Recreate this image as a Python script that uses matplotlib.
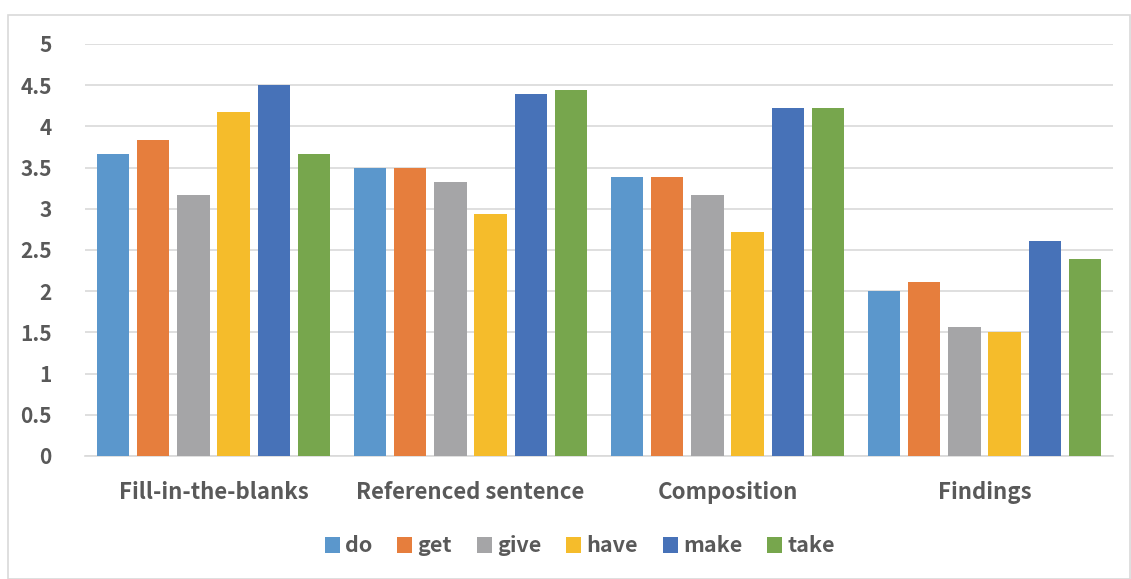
import numpy as np
import matplotlib.pyplot as plt
from matplotlib.patches import Rectangle

plt.rcParams['font.family'] = ['Noto Sans CJK KR', 'DejaVu Sans']

categories = ["Fill-in-the-blanks", "Referenced sentence", "Composition", "Findings"]
verbs = ["do", "get", "give", "have", "make", "take"]
colors = ["#5b97cc", "#e67e3d", "#a5a5a7", "#f5bc2b", "#4772b8", "#77a64d"]

do_vals = [3.67, 3.50, 3.39, 2.00]
get_vals = [3.83, 3.50, 3.39, 2.11]
give_vals = [3.17, 3.33, 3.17, 1.56]
have_vals = [4.17, 2.94, 2.72, 1.50]
make_vals = [4.50, 4.39, 4.22, 2.61]
take_vals = [3.67, 4.44, 4.22, 2.39]
series = [do_vals, get_vals, give_vals, have_vals, make_vals, take_vals]

text_color = "#595959"

fig = plt.figure(figsize=(11.31, 5.79), dpi=100)
# light outer frame of the chart area
fig.add_artist(Rectangle((8 / 1131, 0), 1 - 8 / 1131 - 0.0005, 1 - 15 / 579,
                         transform=fig.transFigure, fill=False,
                         edgecolor="#d9d9d9", lw=1.2))

ax = fig.add_axes([85 / 1131, (579 - 456) / 579, (1113 - 85) / 1131, (456 - 44) / 579])

x = np.arange(len(categories))
width = 0.125
pitch = 0.156
for i, (vals, c) in enumerate(zip(series, colors)):
    ax.bar(x + (i - 2.5) * pitch, vals, width, color=c, label=verbs[i], zorder=3)

ax.set_xlim(-0.5, len(categories) - 0.5)
ax.set_ylim(0, 5)
ax.set_yticks(np.arange(0, 5.01, 0.5))
ax.set_yticklabels(["0", "0.5", "1", "1.5", "2", "2.5", "3", "3.5", "4", "4.5", "5"])
ax.set_xticks(x)
ax.set_xticklabels(categories)
ax.grid(axis="y", color="#d9d9d9", lw=1.2, zorder=0)
ax.tick_params(length=0, labelcolor=text_color)
ax.tick_params(axis="x", pad=18, labelsize=16)
ax.tick_params(axis="y", pad=24, labelsize=15)
for lab in ax.get_xticklabels() + ax.get_yticklabels():
    lab.set_fontweight("bold")
for s in ["top", "right", "left"]:
    ax.spines[s].set_visible(False)
ax.spines["bottom"].set_color("#d9d9d9")
ax.spines["bottom"].set_linewidth(1.2)

leg = fig.legend(loc="center", bbox_to_anchor=(580 / 1131, 1 - 546 / 579), ncol=6,
                 frameon=False, handlelength=0.7, handleheight=0.7,
                 handletextpad=0.25, columnspacing=1.15,
                 prop={"size": 15.5, "weight": "bold"})
for t in leg.get_texts():
    t.set_color(text_color)

fig.savefig("out.png", dpi=100)
